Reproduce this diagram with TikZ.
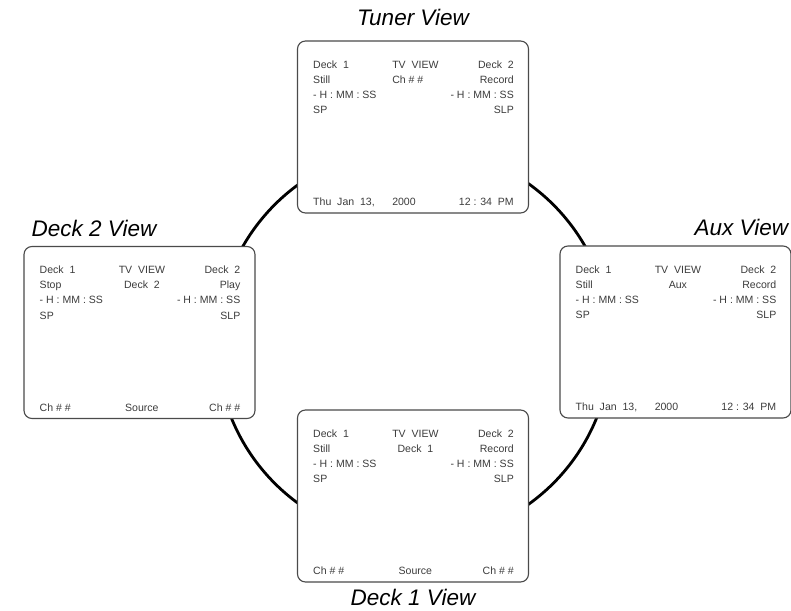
\documentclass[tikz,border=0pt]{standalone}
\usepackage{fontspec}
\setmainfont{Liberation Sans}
\usepackage{xcolor}
\usepackage{tikz}
\usetikzlibrary{calc,positioning}
\definecolor{Ink}{HTML}{3C3C3C}
\definecolor{Frame}{HTML}{4A4A4A}

\begin{document}
\begin{tikzpicture}[
  lcd/.style={font=\fontsize{7.5}{9}\selectfont,text=Ink,inner sep=0pt},
  screen/.style={draw=Frame,line width=0.8pt,rounded corners=2mm,fill=white,
    minimum width=5.775cm,minimum height=4.3cm,inner sep=0pt},
  viewname/.style={font=\fontsize{16}{19}\selectfont\itshape,inner sep=0pt},
  ring/.style={line width=2pt,color=black}
]
\useasboundingbox (0,0) rectangle (19.775,15.275);
% Ring that joins the four views.
\coordinate (hub) at (10.35,6.675);
\draw[ring] (hub) circle (4.925);

% Screens with the rows they all share.
\foreach \s/\x/\y in {tuner/10.325/12.1,deckb/3.4875/6.9625,
                      aux/16.8875/6.975,decka/10.325/2.875} {
  \node[screen] (\s) at (\x,\y) {};
  \node[lcd,anchor=base west] (\s-d1) at ($(\s.north west)+(0.4,-0.69)$) {Deck\ \ 1};
  \node[lcd,anchor=base] (\s-tv) at ($(\s.north)+(0.06,-0.69)$) {TV\ \ VIEW};
  \node[lcd,anchor=base east] (\s-d2) at ($(\s.north east)+(-0.375,-0.69)$) {Deck\ \ 2};
  \node[lcd,anchor=base west] (\s-lt) at ($(\s.north west)+(0.4,-1.45)$) {- H : MM : SS};
  \node[lcd,anchor=base east] (\s-rt) at ($(\s.north east)+(-0.375,-1.45)$) {- H : MM : SS};
  \node[lcd,anchor=base west] (\s-ls) at ($(\s.north west)+(0.4,-1.83)$) {SP};
  \node[lcd,anchor=base east] (\s-rs) at ($(\s.north east)+(-0.375,-1.83)$) {SLP};
}

% Rows that differ from screen to screen.
\foreach \s/\l/\r/\bl/\br in {tuner/Still/Record/{Thu\ \ Jan\ \ 13,}/{12 : 34\ \ PM},
                              deckb/Stop/Play/{Ch \# \#}/{Ch \# \#},
                              aux/Still/Record/{Thu\ \ Jan\ \ 13,}/{12 : 34\ \ PM},
                              decka/Still/Record/{Ch \# \#}/{Ch \# \#}} {
  \node[lcd,anchor=base west] (\s-l2) at ($(\s.north west)+(0.4,-1.07)$) {\l};
  \node[lcd,anchor=base east] (\s-r2) at ($(\s.north east)+(-0.375,-1.07)$) {\r};
  \node[lcd,anchor=base west] (\s-bl) at ($(\s.south west)+(0.4,0.2)$) {\bl};
  \node[lcd,anchor=base east] (\s-br) at ($(\s.south east)+(-0.375,0.2)$) {\br};
}
\node[lcd,anchor=base west] (tuner-m2) at (tuner-tv.base west |- tuner-l2.base) {Ch \# \#};
\node[lcd,anchor=base west] (tuner-mb) at (tuner-tv.base west |- tuner-bl.base) {2000};
\node[lcd,anchor=base] (aux-m2) at (aux-tv.base |- aux-l2.base) {Aux};
\node[lcd,anchor=base west] (aux-mb) at (aux-tv.base west |- aux-bl.base) {2000};
\node[lcd,anchor=base] (deckb-m2) at (deckb-tv.base |- deckb-l2.base) {Deck\ \ 2};
\node[lcd,anchor=base] (deckb-mb) at (deckb-tv.base |- deckb-bl.base) {Source};
\node[lcd,anchor=base] (decka-m2) at (decka-tv.base |- decka-l2.base) {Deck\ \ 1};
\node[lcd,anchor=base] (decka-mb) at (decka-tv.base |- decka-bl.base) {Source};

% View names.
\node[viewname,above=0.35cm of tuner] (tuner-name) {Tuner View};
\node[viewname,anchor=base west] (deckb-name) at ($(deckb.north west)+(0.2,0.23)$) {Deck 2 View};
\node[viewname,anchor=base east] (aux-name) at ($(aux.north east)+(-0.08,0.25)$) {Aux View};
\node[viewname,below=0.15cm of decka] (decka-name) {Deck 1 View};
\end{tikzpicture}
\end{document}
